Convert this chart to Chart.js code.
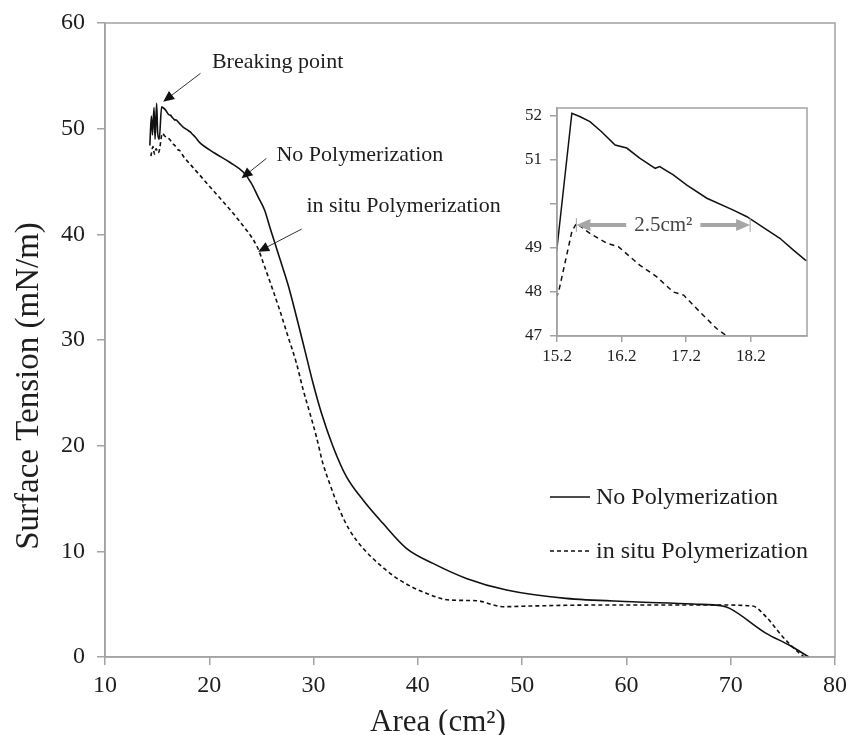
<!doctype html>
<html>
<head>
<meta charset="UTF-8">
<title>Surface Tension vs Area</title>
<script src="https://cdn.jsdelivr.net/npm/chart.js@4.4.1/dist/chart.umd.min.js"></script>
<style>
  body { margin: 0; background: #fff; }
  #wrap { position: relative; width: 849px; height: 735px; }
  #main { position: absolute; left: 0; top: 0; }
  #inset { position: absolute; left: 490px; top: 95px; }
</style>
</head>
<body>
<div id="wrap">
  <canvas id="main" width="849" height="735"></canvas>
  <canvas id="inset" width="340" height="285"></canvas>
</div>

<script>
// ---- data ----
var noPolyX = [14.3, 14.45, 14.55, 14.7, 14.8, 14.95, 15.05, 15.2, 15.43, 15.56, 15.71, 15.89, 16.1, 16.28, 16.48,
  16.72, 16.79, 17.0, 17.21, 17.52, 17.93, 18.14, 18.45, 18.65, 18.86, 19.04, 20.5, 22.0, 23.25, 24.0, 24.68,
  25.3, 25.8, 26.6, 27.56, 28.36, 29.16, 29.95, 30.76, 31.87, 33.15, 34.74, 36.65, 38.9, 41.45, 44.65, 48.5,
  54.2, 60.6, 66.35, 69.2, 69.9, 73.4, 75.6, 77.5];
var noPolyY = [48.4, 51.2, 49.4, 52.0, 49.0, 52.4, 49.6, 49.0, 52.06, 51.98, 51.87, 51.64, 51.34, 51.27, 51.04,
  50.81, 50.85, 50.66, 50.43, 50.13, 49.86, 49.71, 49.41, 49.22, 48.95, 48.73, 47.7, 46.8, 45.9, 44.9, 43.55,
  42.3, 40.7, 38.2, 35.2, 32.2, 29.04, 25.9, 23.06, 19.9, 17.06, 14.86, 12.65, 10.29, 8.86, 7.44, 6.34,
  5.55, 5.23, 5.01, 4.82, 4.6, 2.24, 1.13, 0];

var inSituX = [14.4, 14.6, 14.75, 14.9, 15.1, 15.22, 15.43, 15.5, 15.71, 15.97, 16.15, 16.48, 16.74, 17.0, 17.16,
  17.41, 17.67, 17.83, 20.06, 22.93, 24.6, 25.32, 26.76, 27.56, 28.36, 29.0, 29.64, 30.27, 30.9, 31.55, 32.5,
  33.46, 34.74, 36.5, 38.26, 40.81, 43.05, 45.6, 48.15, 51.0, 57.4, 63.8, 68.9, 72.1, 73.4, 75.0, 76.6, 77.05];
var inSituY = [47.4, 48.3, 47.6, 48.1, 47.7, 47.97, 49.37, 49.56, 49.33, 49.11, 49.03, 48.61, 48.35, 48.0, 47.93,
  47.55, 47.17, 47.0, 44.5, 41.2, 38.8, 36.9, 32.8, 30.3, 27.8, 25.3, 23.1, 20.85, 18.3, 16.4, 13.9,
  12.0, 10.3, 8.6, 7.28, 6.03, 5.39, 5.33, 4.76, 4.83, 4.92, 4.92, 4.92, 4.82, 3.8, 1.9, 0.35, 0];

var seriesNames = ['No Polymerization', 'in situ Polymerization'];
var xTicksInset = [15.2, 16.2, 17.2, 18.2];
var yTicksInset = [47, 48, 49, 50, 51, 52];

// callouts: text anchor, arrow tail, arrow tip (data units)
var callouts = [
  { text: 'Breaking point',        at: [20.25, 55.7], from: [19.16, 55.24], to: [15.58, 52.55] },
  { text: 'No Polymerization',     at: [26.44, 46.97], from: [25.48, 47.19], to: [23.09, 45.3] },
  { text: 'in situ Polymerization', at: [29.31, 42.14], from: [28.86, 40.5], to: [24.68, 38.36] }
];
// 2.5 cm2 marker in the inset
var spanFrom = 15.5, spanTo = 18.19, spanLevel = 49.52;

var serif = "'Liberation Serif', 'Times New Roman', serif";
var ink = '#1e1e1e';
var axisGray = '#a3a3a3';

function pts(xs, ys) {
  var out = [];
  for (var i = 0; i < xs.length; i++) out.push({ x: xs[i], y: ys[i] });
  return out;
}

function arrow(ctx, x1, y1, x2, y2, head, w) {
  var ang = Math.atan2(y2 - y1, x2 - x1);
  ctx.beginPath();
  ctx.moveTo(x1, y1);
  ctx.lineTo(x2 - Math.cos(ang) * head * 0.8, y2 - Math.sin(ang) * head * 0.8);
  ctx.stroke();
  ctx.beginPath();
  ctx.moveTo(x2, y2);
  ctx.lineTo(x2 - head * Math.cos(ang) + w * Math.sin(ang), y2 - head * Math.sin(ang) - w * Math.cos(ang));
  ctx.lineTo(x2 - head * Math.cos(ang) - w * Math.sin(ang), y2 - head * Math.sin(ang) + w * Math.cos(ang));
  ctx.closePath();
  ctx.fill();
}

var mainDecor = {
  id: 'mainDecor',
  afterDraw: function(chart) {
    var ctx = chart.ctx, a = chart.chartArea, sx = chart.scales.x, sy = chart.scales.y;
    ctx.save();
    ctx.strokeStyle = axisGray;
    ctx.lineWidth = 1.5;
    ctx.strokeRect(a.left, a.top, a.right - a.left, a.bottom - a.top);

    // axis titles
    ctx.fillStyle = ink;
    ctx.font = '31px ' + serif;
    ctx.textAlign = 'center';
    ctx.textBaseline = 'alphabetic';
    ctx.fillText('Area (cm\u00B2)', 438, 731);
    ctx.save();
    ctx.translate(38, 386);
    ctx.rotate(-Math.PI / 2);
    ctx.font = '33px ' + serif;
    ctx.fillText('Surface Tension (mN/m)', 0, 0);
    ctx.restore();

    // callouts
    ctx.font = '22px ' + serif;
    ctx.textAlign = 'left';
    ctx.strokeStyle = '#333';
    ctx.lineWidth = 1;
    callouts.forEach(function(c) {
      ctx.fillStyle = ink;
      ctx.fillText(c.text, sx.getPixelForValue(c.at[0]), sy.getPixelForValue(c.at[1]));
      ctx.fillStyle = '#111';
      arrow(ctx, sx.getPixelForValue(c.from[0]), sy.getPixelForValue(c.from[1]),
        sx.getPixelForValue(c.to[0]), sy.getPixelForValue(c.to[1]), 11, 5);
    });

    // legend
    var lx = a.left + 445, ly = [497, 551];
    ctx.font = '24px ' + serif;
    ctx.textBaseline = 'middle';
    chart.data.datasets.forEach(function(ds, i) {
      ctx.strokeStyle = '#111';
      ctx.lineWidth = 1.6;
      ctx.setLineDash(ds.borderDash || []);
      ctx.beginPath();
      ctx.moveTo(lx, ly[i]);
      ctx.lineTo(lx + 40, ly[i]);
      ctx.stroke();
      ctx.setLineDash([]);
      ctx.fillStyle = ink;
      ctx.fillText(ds.label, lx + 46, ly[i] + 1);
    });
    ctx.restore();
  }
};

var insetDecor = {
  id: 'insetDecor',
  beforeDraw: function(chart) {
    var ctx = chart.ctx, a = chart.chartArea;
    ctx.save();
    ctx.fillStyle = '#fff';
    ctx.fillRect(a.left, a.top, a.right - a.left, a.bottom - a.top);
    ctx.restore();
  },
  afterDraw: function(chart) {
    var ctx = chart.ctx, a = chart.chartArea, sx = chart.scales.x, sy = chart.scales.y;
    ctx.save();
    ctx.strokeStyle = axisGray;
    ctx.lineWidth = 1.5;
    ctx.strokeRect(a.left, a.top, a.right - a.left, a.bottom - a.top);

    var x1 = sx.getPixelForValue(spanFrom), x2 = sx.getPixelForValue(spanTo), yy = sy.getPixelForValue(spanLevel);
    ctx.font = '21px ' + serif;
    ctx.textAlign = 'center';
    ctx.textBaseline = 'middle';
    var label = '2.5cm\u00B2';
    var tw = ctx.measureText(label).width;
    var cx = (x1 + x2) / 2;
    ctx.fillStyle = '#444';
    ctx.fillText(label, cx, yy);

    ctx.strokeStyle = '#a6a6a6';
    ctx.fillStyle = '#a6a6a6';
    ctx.lineWidth = 4;
    arrow(ctx, cx - tw / 2 - 8, yy, x1, yy, 14, 6);
    arrow(ctx, cx + tw / 2 + 8, yy, x2, yy, 14, 6);
    ctx.lineWidth = 1;
    [x1, x2].forEach(function(px) {
      ctx.beginPath();
      ctx.moveTo(px, yy - 7);
      ctx.lineTo(px, yy + 7);
      ctx.stroke();
    });
    ctx.restore();
  }
};

var datasets = [
  { label: seriesNames[0], data: pts(noPolyX, noPolyY), borderColor: '#111', borderWidth: 1.6,
    pointRadius: 0, cubicInterpolationMode: 'monotone', fill: false },
  { label: seriesNames[1], data: pts(inSituX, inSituY), borderColor: '#111', borderWidth: 1.6,
    borderDash: [4, 3], pointRadius: 0, cubicInterpolationMode: 'monotone', fill: false }
];

new Chart(document.getElementById('main'), {
  type: 'line',
  data: { datasets: datasets },
  options: {
    responsive: false,
    animation: false,
    layout: { padding: { left: 0, top: 23, right: 14, bottom: 0 } },
    scales: {
      x: {
        type: 'linear', min: 10, max: 80,
        ticks: { stepSize: 10, color: ink, font: { family: serif, size: 24 }, padding: 6 },
        grid: { drawOnChartArea: false, tickLength: 8, color: axisGray, lineWidth: 1.5 },
        border: { color: axisGray, width: 1.5 },
        afterFit: function(s) { s.height = 78; s.paddingRight = 0; s.paddingLeft = 0; }
      },
      y: {
        min: 0, max: 60,
        ticks: { stepSize: 10, color: ink, font: { family: serif, size: 24 }, padding: 12 },
        grid: { drawOnChartArea: false, tickLength: 8, color: axisGray, lineWidth: 1.5 },
        border: { color: axisGray, width: 1.5 },
        afterFit: function(s) { s.width = 105; s.paddingTop = 0; s.paddingBottom = 0; }
      }
    },
    plugins: { legend: { display: false }, tooltip: { enabled: false } }
  },
  plugins: [mainDecor]
});

new Chart(document.getElementById('inset'), {
  type: 'line',
  data: {
    datasets: [
      { label: seriesNames[0], data: pts(noPolyX, noPolyY), borderColor: '#111', borderWidth: 1.5,
        pointRadius: 0, tension: 0 },
      { label: seriesNames[1], data: pts(inSituX, inSituY), borderColor: '#111', borderWidth: 1.5,
        borderDash: [5, 4], pointRadius: 0, tension: 0 }
    ]
  },
  options: {
    responsive: false,
    animation: false,
    layout: { padding: { left: 0, top: 13, right: 23, bottom: 0 } },
    scales: {
      x: {
        type: 'linear', min: 15.2, max: 19.07,
        afterBuildTicks: function(s) { s.ticks = xTicksInset.map(function(v) { return { value: v }; }); },
        ticks: { color: ink, font: { family: serif, size: 17 }, padding: 4,
          callback: function(v) { return v.toFixed(1); } },
        grid: { drawOnChartArea: false, tickLength: 6, color: axisGray, lineWidth: 1.5 },
        border: { color: axisGray, width: 1.5 },
        afterFit: function(s) { s.height = 44; s.paddingRight = 0; s.paddingLeft = 0; }
      },
      y: {
        min: 47, max: 52.18,
        afterBuildTicks: function(s) { s.ticks = yTicksInset.map(function(v) { return { value: v }; }); },
        ticks: { color: ink, font: { family: serif, size: 17 }, padding: 8,
          callback: function(v) { return v === 50 ? '' : String(v); } },
        grid: { drawOnChartArea: false, tickLength: 7, color: axisGray, lineWidth: 1.5 },
        border: { color: axisGray, width: 1.5 },
        afterFit: function(s) { s.width = 67; s.paddingTop = 0; s.paddingBottom = 0; }
      }
    },
    plugins: { legend: { display: false }, tooltip: { enabled: false } }
  },
  plugins: [insetDecor]
});
</script>
</body>
</html>
